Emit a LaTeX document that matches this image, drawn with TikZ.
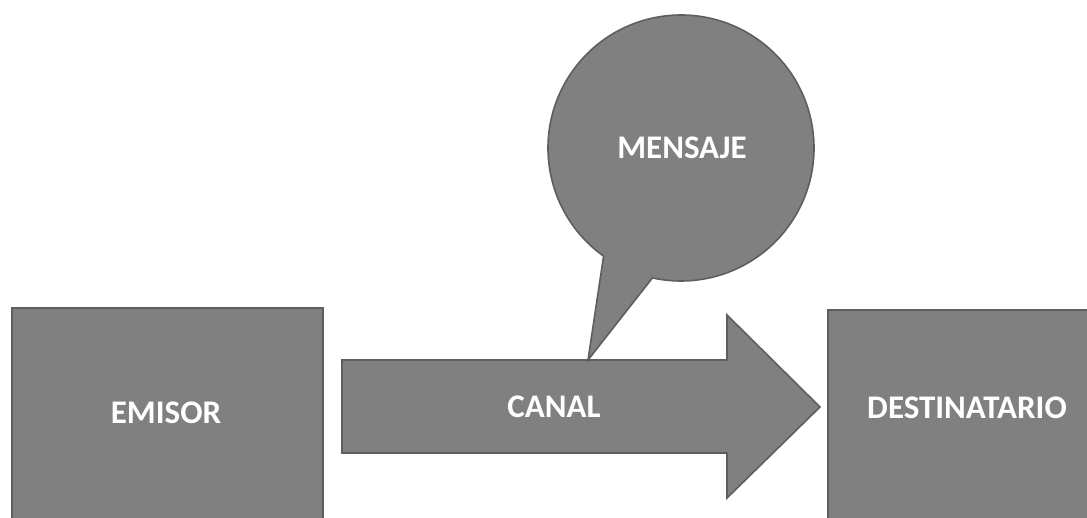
\documentclass[tikz,border=0pt]{standalone}
\usepackage{fontspec}
\setmainfont{Carlito}
\begin{document}
\begin{tikzpicture}[x=1pt,y=-1pt,
  shapefill/.style={fill=boxgray,draw=edgegray,line width=1.6pt,line join=miter},
  label/.style={text=white,font=\fontsize{33}{33}\selectfont\bfseries,inner sep=0pt,anchor=center}]
\definecolor{boxgray}{HTML}{808080}
\definecolor{edgegray}{HTML}{5E5E5E}
\useasboundingbox (0,0) rectangle (1087,517);
\clip (0,0) rectangle (1087,517);
% sender box
\path[shapefill] (12,308) rectangle (323,530);
% channel arrow
\path[shapefill] (342,360) -- (727,360) -- (727,315) -- (820,407)
  -- (727,498) -- (727,453) -- (342,453) -- cycle;
% receiver box
\path[shapefill] (828,310) rectangle (1100,530);
% message speech bubble with its tail resting on the arrow
\path[shapefill] (681,148) ++(125.6:133) arc[start angle=125.6,end angle=462.4,radius=133]
  -- (588,360) -- cycle;
% labels
\node[label] (emisor) at (166,413) {EMISOR};
\node[label] (canal) at (554,407) {CANAL};
\node[label] (dest) at (967,408) {DESTINATARIO};
\node[label] (mensaje) at (682,148) {MENSAJE};
\end{tikzpicture}
\end{document}
